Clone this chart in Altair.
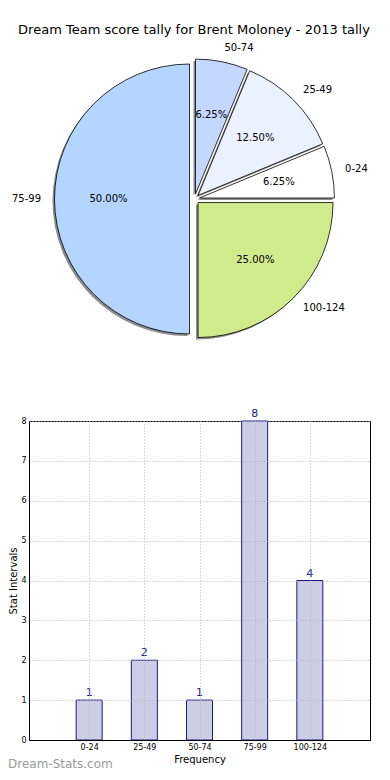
import altair as alt
import pandas as pd

# ---- data ----
labels = ["0-24", "25-49", "50-74", "75-99", "100-124"]
counts = [1, 2, 1, 8, 4]
slice_colors = ["#ffffff", "#ebf2ff", "#c4d7ff", "#b4d5ff", "#d0eb8b"]
y_ticks = [0, 1, 2, 3, 4, 5, 6, 7, 8]

title_text = "Dream Team score tally for Brent Moloney - 2013 tally"
x_title = "Frequency"
y_title = "Stat Intervals"
watermark = "Dream-Stats.com"

FONT = "DejaVu Sans"

df = pd.DataFrame({"label": labels, "count": counts, "idx": list(range(len(labels)))})
df["pos"] = df["idx"] + 1

# ---- layout (pixels relative to the bar plot origin) ----
OX, OY = 29, 421          # page position of the bar plot origin
W, H = 370 - OX, 740 - OY
CX, CY = 194.5 - OX, 199 - OY
R = 135
EXPLODE = 5
SHADOW = 2

pie_base = (
    alt.Chart(df)
    .transform_window(cum="sum(count)", sort=[alt.SortField("idx")])
    .transform_joinaggregate(total="sum(count)")
    .transform_calculate(
        a0="2*PI*(datum.cum - datum.count)/datum.total",
        a1="2*PI*datum.cum/datum.total",
    )
    .transform_calculate(
        t0="PI/2 - datum.a0",
        t1="PI/2 - datum.a1",
        mid="PI/2 - (datum.a0 + datum.a1)/2",
    )
    .transform_calculate(
        px=f"{CX} + {EXPLODE}*sin(datum.mid)",
        py=f"{CY} - {EXPLODE}*cos(datum.mid)",
    )
    .transform_calculate(
        sx=f"datum.px - {SHADOW}",
        sy=f"datum.py + {SHADOW}",
        pct="format(100*datum.count/datum.total, '.2f') + '%'",
    )
)

px = alt.X("px:Q", scale=None, axis=None)
py = alt.Y("py:Q", scale=None, axis=None)

shadow = pie_base.mark_arc(radius=R, fill="#8c8c8c").encode(
    theta=alt.Theta("t0:Q", scale=None, stack=False),
    theta2=alt.Theta2("t1:Q"),
    x=alt.X("sx:Q", scale=None, axis=None),
    y=alt.Y("sy:Q", scale=None, axis=None),
)

slices = pie_base.mark_arc(radius=R, stroke="black", strokeWidth=0.8).encode(
    theta=alt.Theta("t0:Q", scale=None, stack=False),
    theta2=alt.Theta2("t1:Q"),
    x=px,
    y=py,
    color=alt.Color("label:N", scale=alt.Scale(domain=labels, range=slice_colors), legend=None),
)

pct = pie_base.mark_text(radius=0.6 * R, fontSize=10, font=FONT, color="black",
                         baseline="middle").encode(
    theta=alt.Theta("mid:Q", scale=None, stack=False), x=px, y=py, text="pct:N"
)

lab_r = pie_base.transform_filter("sin(datum.mid) > 0").mark_text(
    radius=1.1 * R, align="left", baseline="middle", fontSize=10, font=FONT, color="black"
).encode(theta=alt.Theta("mid:Q", scale=None, stack=False), x=px, y=py, text="label:N")

lab_l = pie_base.transform_filter("sin(datum.mid) <= 0").mark_text(
    radius=1.1 * R, align="right", baseline="middle", fontSize=10, font=FONT, color="black"
).encode(theta=alt.Theta("mid:Q", scale=None, stack=False), x=px, y=py, text="label:N")

label_expr = "[" + ",".join(f"'{l}'" for l in labels) + "][datum.value - 1]"
x_vals = list(range(1, len(labels) + 1))

x_enc = alt.X(
    "pos:Q",
    scale=alt.Scale(domain=[0, len(labels) + 1], nice=False, zero=False),
    axis=alt.Axis(values=x_vals, tickCount=len(x_vals), labelExpr=label_expr,
                  title=x_title, grid=True, ticks=False, labelPadding=3,
                  titlePadding=3, labelOverlap=False, zindex=1),
)
y_enc = alt.Y(
    "count:Q",
    scale=alt.Scale(domain=[min(y_ticks), max(y_ticks)], nice=False),
    axis=alt.Axis(values=y_ticks, tickCount=len(y_ticks), format="d", title=y_title,
                  grid=True, ticks=False, labelPadding=3, titlePadding=2,
                  labelOverlap=False, zindex=1),
)

bar_base = alt.Chart(df).encode(x=x_enc, y=y_enc)
bars = bar_base.mark_bar(size=26, fill="#cdcde6", stroke="#1a1a8c", strokeWidth=1)
vals = bar_base.mark_text(baseline="bottom", dy=-2, fontSize=11, font=FONT,
                          color="#1a1a8c").encode(text="count:Q")

title = alt.Chart(pd.DataFrame({"t": [title_text]})).mark_text(
    fontSize=13, font=FONT, color="black", baseline="middle", align="center"
).encode(x=alt.value(194 - OX), y=alt.value(30 - OY), text="t:N")

wm = alt.Chart(pd.DataFrame({"t": [watermark]})).mark_text(
    fontSize=12, font=FONT, color="#9a9a9a", baseline="middle", align="left"
).encode(x=alt.value(8 - OX), y=alt.value(764 - OY), text="t:N")

chart = (
    alt.layer(bars, vals, shadow, slices, pct, lab_r, lab_l, title, wm)
    .properties(
        width=W, height=H,
        autosize=alt.AutoSizeParams(type="none"),
        padding={"top": OY - 8, "left": OX - 8, "right": 12, "bottom": 30},
    )
    .configure_view(stroke="black", strokeWidth=1)
    .configure_axis(
        labelFont=FONT, titleFont=FONT, labelFontSize=8, titleFontSize=10,
        titleFontWeight="normal", labelColor="black", titleColor="black",
        gridColor="#b4b4b4", gridDash=[1, 2], gridWidth=1, domainColor="black",
    )
)

chart.save("out.html", embed_options={"renderer": "svg", "actions": False})
